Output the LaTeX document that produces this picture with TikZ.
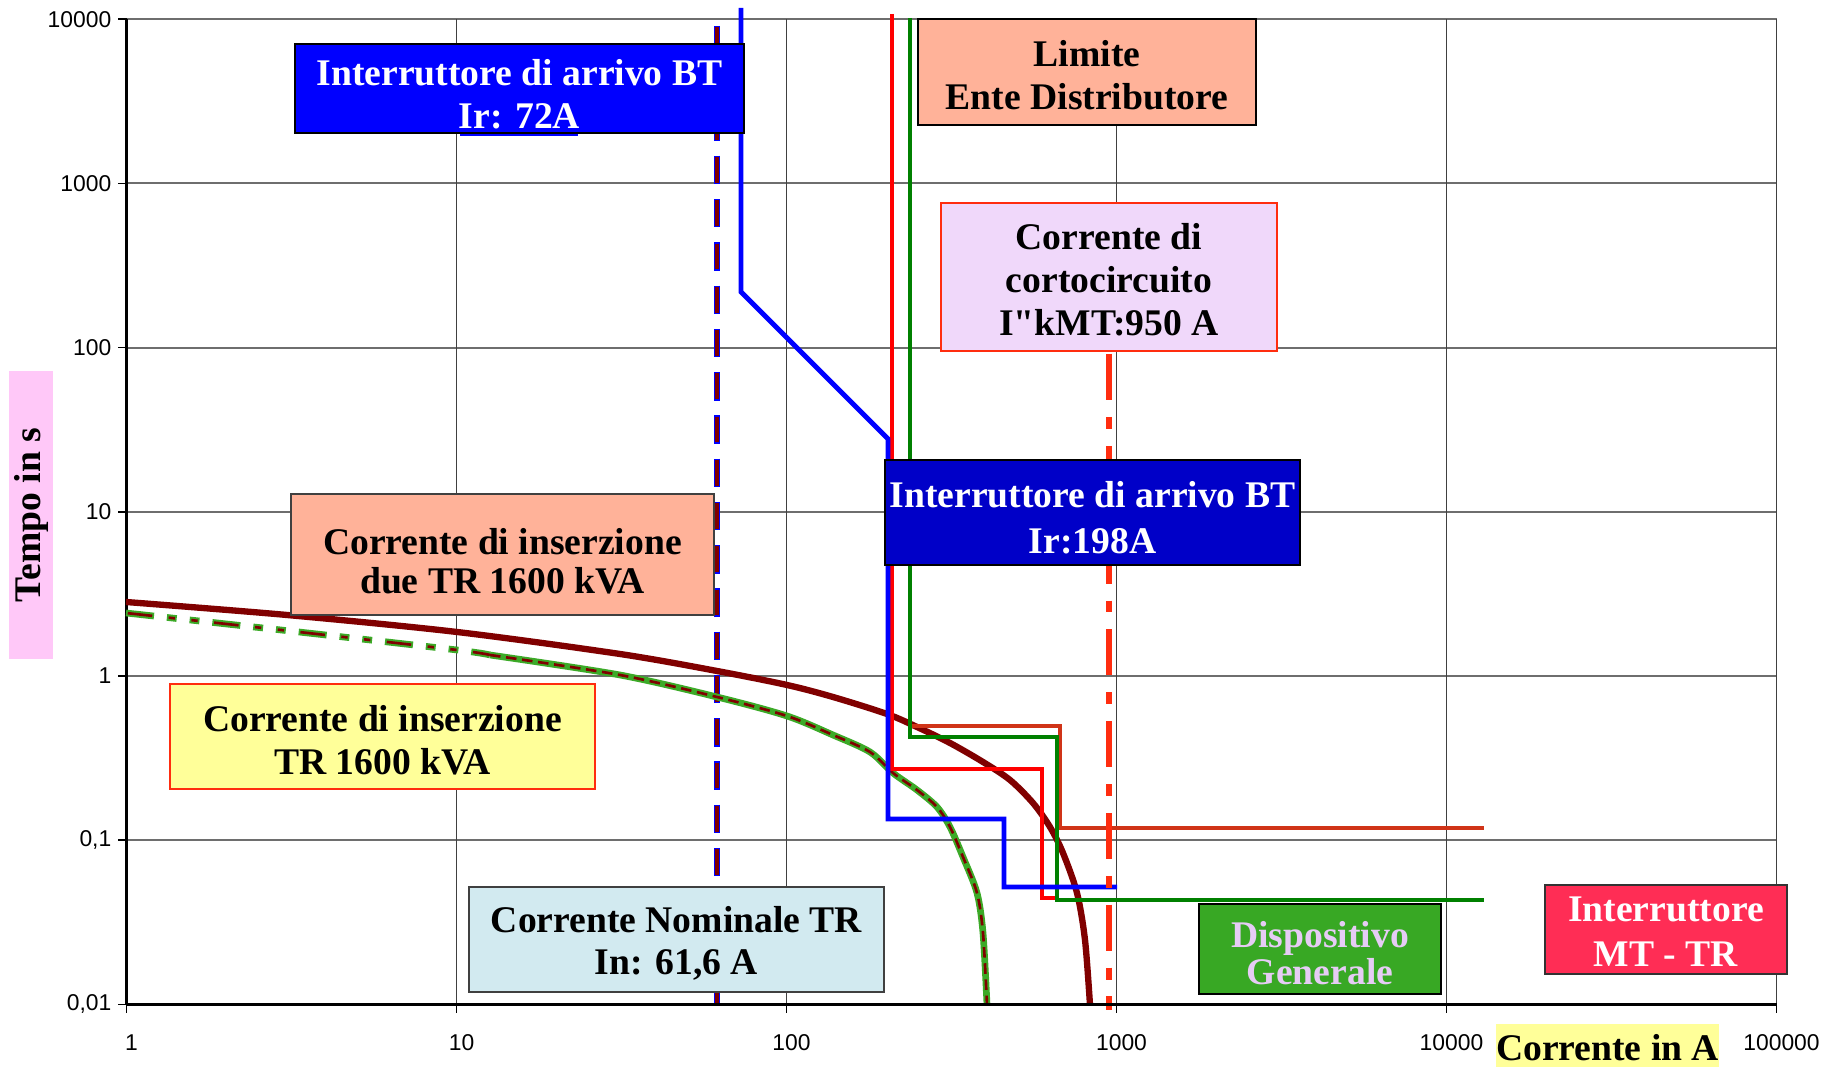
\documentclass[tikz,border=0pt]{standalone}
\usepackage{fontspec}
\setmainfont{Liberation Serif}
\newfontfamily\tickfont{Liberation Sans}
\definecolor{cBlue}{RGB}{0,0,255}
\definecolor{cBlueD}{RGB}{0,0,200}
\definecolor{cRed}{RGB}{255,0,0}
\definecolor{cGreen}{RGB}{0,128,0}
\definecolor{cOrange}{RGB}{208,52,24}
\definecolor{cMaroon}{RGB}{128,0,0}
\definecolor{cLGreen}{RGB}{60,170,40}
\definecolor{cDash}{RGB}{255,45,15}
\definecolor{cSalmon}{RGB}{255,178,153}
\definecolor{cLav}{RGB}{240,216,250}
\definecolor{cYellow}{RGB}{255,255,153}
\definecolor{cLBlue}{RGB}{210,234,240}
\definecolor{cGreenBox}{RGB}{56,168,36}
\definecolor{cGreenTxt}{RGB}{230,204,245}
\definecolor{cPinkRed}{RGB}{255,45,85}
\definecolor{cPink}{RGB}{255,200,248}
\definecolor{cGridH}{RGB}{110,110,110}
\tikzset{
  boxst/.style={draw, inner sep=0pt, line width=0.4pt},
  txt/.style={inner sep=0pt, align=center, font=\fontsize{10.7}{12.2}\selectfont\bfseries},
  gridh/.style={cGridH, line width=0.55pt},
  gridv/.style={black!75, line width=0.35pt},
  ticklbl/.style={inner sep=0pt, font=\tickfont\fontsize{6.5}{7}\selectfont},
  stepline/.style={line width=1.4pt, line join=miter},
}
\begin{document}
\begin{tikzpicture}[x=0.01cm,y=-0.01cm]
\fill[white] (0,0) rectangle (1836,1068);
\useasboundingbox (0,0) rectangle (1836,1068);

% grid
\foreach \yy in {19.2,183.4,347.6,511.8,676,840.2}
  \draw[gridh] (126.5,\yy) -- (1776.5,\yy);
\foreach \xx in {456.5,786.5,1116.5,1446.5,1776.5}
  \draw[gridv] (\xx,19.2) -- (\xx,1004.4);

% axes
\draw[black, line width=0.6pt] (126.5,19.2) -- (126.5,1004.4);
\foreach \yy in {19.2,183.4,347.6,511.8,676,840.2,1004.4}
  \draw[black, line width=0.5pt] (118,\yy) -- (126.5,\yy);
\foreach \xx in {126.5,456.5,786.5,1116.5,1446.5,1776.5}
  \draw[black, line width=0.5pt] (\xx,1004.4) -- (\xx,1013);

% tick labels
\node[ticklbl, anchor=east] (y4) at (112,19.2) {10000};
\node[ticklbl, anchor=east] (y3) at (112,183.4) {1000};
\node[ticklbl, anchor=east] (y2) at (112,347.6) {100};
\node[ticklbl, anchor=east] (y1) at (112,511.8) {10};
\node[ticklbl, anchor=east] (y0) at (112,676) {1};
\node[ticklbl, anchor=east] (ym1) at (112,840.2) {0,1};
\node[ticklbl, anchor=east] (ym2) at (112,1004.4) {0,01};
\node[ticklbl] (x0) at (131.5,1043) {1};
\node[ticklbl] (x1) at (461.5,1043) {10};
\node[ticklbl] (x2) at (791.5,1043) {100};
\node[ticklbl] (x3) at (1121.5,1043) {1000};
\node[ticklbl] (x4) at (1451.5,1043) {10000};
\node[ticklbl] (x5) at (1781.5,1043) {100000};

% nominal current (dashed blue/maroon)
\draw[cBlue, line width=1.8pt, dash pattern=on 8.1pt off 4.2pt] (717,26) -- (717,1007);
\draw[cMaroon, line width=0.9pt, dash pattern=on 7.3pt off 5pt, dash phase=11.9pt] (717,26) -- (717,1007);

% inrush two TR (maroon)
\draw[cMaroon, line width=1.8pt] plot[smooth, tension=0.5] coordinates {
  (126,602) (287,615) (457,632) (620,654) (717,671) (787,685) (833,697)
  (887,714) (917,727) (950,743) (983,762) (1010,780) (1033,803) (1050,827)
  (1063,853) (1077,893) (1085,940) (1090,1005)};

% inrush one TR (green with maroon)
\draw[cLGreen, line width=1.9pt, dash pattern=on 8pt off 3.7pt on 2.8pt off 3.7pt on 2.8pt off 3.7pt]
  plot[smooth, tension=0.5] coordinates {(126,613) (290,631) (457,650) (490,655)};
\draw[cMaroon, line width=0.75pt, dash pattern=on 7pt off 4.7pt on 1.8pt off 4.7pt on 1.8pt off 4.7pt, dash phase=-0.5pt]
  plot[smooth, tension=0.5] coordinates {(126,613) (290,631) (457,650) (490,655)};
\draw[cLGreen, line width=1.9pt]
  plot[smooth, tension=0.5] coordinates {(490,655) (620,675) (717,697) (787,716) (833,735)
  (870,752) (893,773) (917,790) (937,807) (950,827) (963,857) (977,893) (983,933) (987,1005)};
\draw[cMaroon, line width=0.75pt, dash pattern=on 3pt off 1.6pt]
  plot[smooth, tension=0.5] coordinates {(490,655) (620,675) (717,697) (787,716) (833,735)
  (870,752) (893,773) (917,790) (937,807) (950,827) (963,857) (977,893) (983,933) (987,1005)};

% step characteristics
\draw[stepline, cOrange] (910,726) -- (1060,726) -- (1060,828) -- (1484,828);
\draw[stepline, cRed] (892,14) -- (892,769) -- (1042,769) -- (1042,898) -- (1055,898);
\draw[stepline, cGreen] (910,18) -- (910,737) -- (1057,737) -- (1057,900) -- (1484,900);
\draw[stepline, cBlue] (741,8) -- (741,292) -- (888,439) -- (888,819) -- (1004,819) -- (1004,887) -- (1117,887);

% short-circuit current (dash-dot)
\draw[cDash, line width=1.6pt, dash pattern=on 13.1pt off 4.8pt on 3.4pt off 4.8pt] (1109,354) -- (1109,1010);

% bottom axis
\draw[black, line width=0.9pt] (126.5,1004.4) -- (1776.5,1004.4);

% label boxes
\fill[cBlue] (460,128) rectangle (578,136);
\node[boxst, fill=cBlue, minimum width=4.49cm, minimum height=0.89cm] (lb1) at (519.5,88.5) {};
\node[txt, text=white, font=\fontsize{10.7}{12.1}\selectfont\bfseries] (lb1t) at ([yshift=-1.6pt]lb1.center)
  {Interruttore di arrivo BT\\Ir: 72A};

\node[boxst, fill=cSalmon, minimum width=3.38cm, minimum height=1.06cm] (lim) at (1087,72) {};
\node[txt] (limt) at ([yshift=-0.8pt]lim.center) {Limite\\Ente Distributore};

\node[boxst, fill=cLav, draw=cDash, line width=0.7pt, minimum width=3.36cm, minimum height=1.48cm] (cc) at (1109,277) {};
\node[txt] (cct) at ([yshift=-0.8pt]cc.center) {Corrente di\\cortocircuito\\I\textquotedbl kMT:950 A};

\node[boxst, fill=cBlueD, minimum width=4.15cm, minimum height=1.05cm] (lb2) at (1092.5,512.5) {};
\node[txt, text=white, font=\fontsize{10.7}{13.3}\selectfont\bfseries] (lb2t) at ([yshift=-1.5pt]lb2.center)
  {Interruttore di arrivo BT\\Ir:198A};

\node[boxst, fill=cSalmon, draw=black!75, minimum width=4.23cm, minimum height=1.21cm] (ins2) at (502.5,554.5) {};
\node[txt, font=\fontsize{10.7}{11.2}\selectfont\bfseries] (ins2t) at ([yshift=-2pt]ins2.center)
  {Corrente di inserzione\\due TR 1600 kVA};

\node[boxst, fill=cYellow, draw=cDash, minimum width=4.25cm, minimum height=1.05cm] (ins1) at (382.5,736.5) {};
\node[txt] (ins1t) at ([yshift=-1pt]ins1.center) {Corrente di inserzione\\TR 1600 kVA};

\node[boxst, fill=cLBlue, draw=black!75, minimum width=4.15cm, minimum height=1.05cm] (nom) at (676.5,939.5) {};
\node[txt] (nomt) at ([yshift=-1.1pt]nom.center) {Corrente Nominale TR\\In: 61,6 A};

\node[boxst, fill=cGreenBox, minimum width=2.42cm, minimum height=0.9cm] (dg) at (1320,949) {};
\node[txt, text=cGreenTxt, font=\fontsize{10.7}{10.6}\selectfont\bfseries] (dgt) at ([yshift=-1.2pt]dg.center)
  {Dispositivo\\Generale};

\node[boxst, fill=cPinkRed, draw=black!80, minimum width=2.42cm, minimum height=0.89cm] (mt) at (1666,929.5) {};
\node[txt, text=white, font=\fontsize{10.7}{12.6}\selectfont\bfseries] (mtt) at ([yshift=-0.6pt]mt.center)
  {Interruttore\\MT - TR};

\node[boxst, draw=none, fill=cYellow, minimum width=2.23cm, minimum height=0.43cm] (xt) at (1607.5,1045.5) {};
\node[txt] (xtt) at ([yshift=-0.6pt]xt.center) {Corrente in A};

\node[boxst, draw=none, fill=cPink, minimum width=0.44cm, minimum height=2.88cm] (yt) at (31,515) {};
\node[txt, rotate=90] (ytt) at (yt.center) {Tempo in s};
\end{tikzpicture}
\end{document}
